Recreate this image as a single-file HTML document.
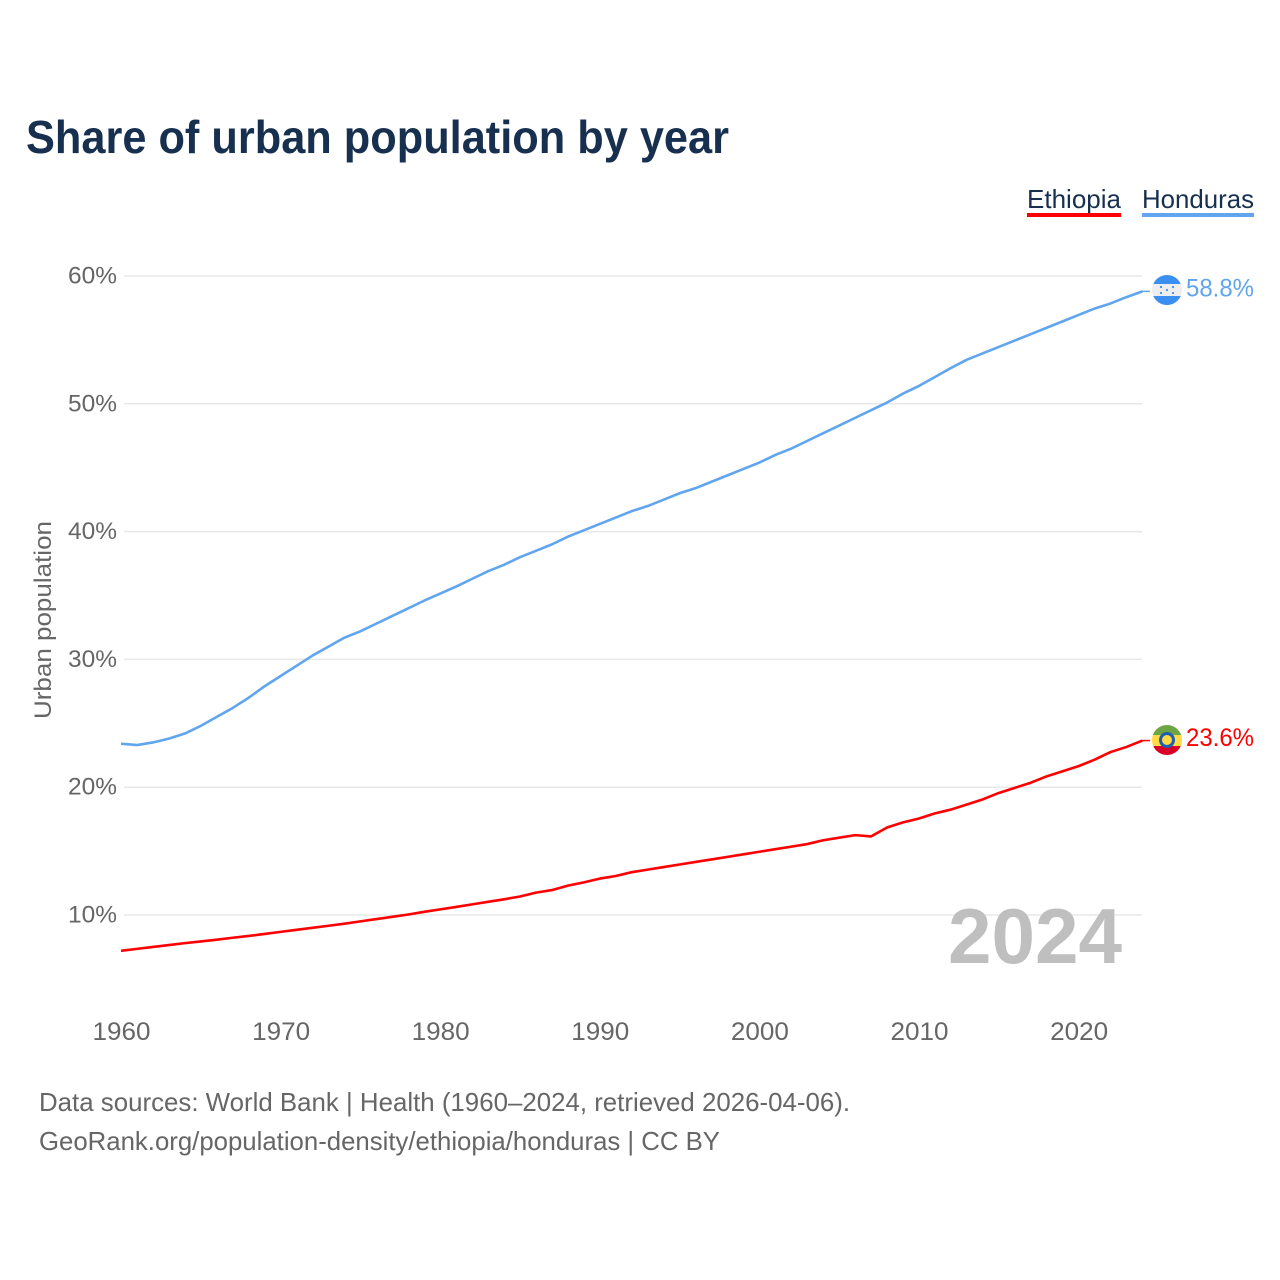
<!DOCTYPE html>
<html lang="en">
<head>
<meta charset="utf-8">
<title>Share of urban population by year</title>
<style>
html,body{margin:0;padding:0;background:#fff;width:1280px;height:1280px;overflow:hidden}
svg{display:block;font-family:"Liberation Sans",sans-serif}
</style>
</head>
<body>
<svg id="chart" xmlns="http://www.w3.org/2000/svg" width="1280" height="1280" viewBox="0 0 1280 1280">
  <defs>
    <clipPath id="flag-clip-hn"><circle cx="1167" cy="290" r="15"/></clipPath>
    <clipPath id="flag-clip-et"><circle cx="1167" cy="740" r="15"/></clipPath>
  </defs>
  <rect width="1280" height="1280" fill="#fff"/>
  <text x="26" y="153" font-size="46" font-weight="700" fill="#18304f" textLength="703" lengthAdjust="spacingAndGlyphs">Share of urban population by year</text>

  <g>
    <text x="1027" y="208" font-size="26" fill="#18304f" textLength="94" lengthAdjust="spacingAndGlyphs">Ethiopia</text>
    <rect x="1027" y="213" width="94" height="4" fill="#ff0000"/>
  </g>
  <g>
    <text x="1142" y="208" font-size="26" fill="#18304f" textLength="112" lengthAdjust="spacingAndGlyphs">Honduras</text>
    <rect x="1142" y="213" width="112" height="4" fill="#60a5ee"/>
  </g>

  <g id="grid"></g>
  <g id="yticks"></g>
  <g id="xticks"></g>

  <text transform="translate(51,719) rotate(-90)" font-size="24" fill="#666" textLength="198" lengthAdjust="spacingAndGlyphs">Urban population</text>

  <text x="948" y="963" font-size="78" font-weight="700" fill="#bfbfbf" textLength="174" lengthAdjust="spacingAndGlyphs">2024</text>

  <g id="series"></g>

  <g clip-path="url(#flag-clip-hn)">
    <rect x="1152" y="275" width="30" height="30" fill="#eeeeee"/>
    <rect x="1152" y="275" width="30" height="9" fill="#3b8ff0"/>
    <rect x="1152" y="296" width="30" height="9" fill="#3b8ff0"/>
    <circle cx="1161" cy="287" r="1.1" fill="#3b8ff0"/>
    <circle cx="1173" cy="287" r="1.1" fill="#3b8ff0"/>
    <circle cx="1167" cy="290" r="1.1" fill="#3b8ff0"/>
    <circle cx="1161" cy="293" r="1.1" fill="#3b8ff0"/>
    <circle cx="1173" cy="293" r="1.1" fill="#3b8ff0"/>
  </g>
  <g clip-path="url(#flag-clip-et)">
    <rect x="1152" y="725" width="30" height="10" fill="#6da544"/>
    <rect x="1152" y="735" width="30" height="11" fill="#ffda44"/>
    <rect x="1152" y="746" width="30" height="9" fill="#d80027"/>
    <circle cx="1167" cy="740" r="8" fill="#1f5fb0"/>
    <circle cx="1167" cy="740" r="5" fill="#ffda44"/>
  </g>

  <g id="end-labels"></g>

  <text x="39" y="1111" font-size="26" fill="#666" textLength="811" lengthAdjust="spacingAndGlyphs">Data sources: World Bank | Health (1960–2024, retrieved 2026-04-06).</text>
  <text x="39" y="1150" font-size="26" fill="#666" textLength="681" lengthAdjust="spacingAndGlyphs">GeoRank.org/population-density/ethiopia/honduras | CC BY</text>
</svg>
<script>
const years = [1960,1961,1962,1963,1964,1965,1966,1967,1968,1969,1970,1971,1972,1973,1974,1975,1976,1977,1978,1979,1980,1981,1982,1983,1984,1985,1986,1987,1988,1989,1990,1991,1992,1993,1994,1995,1996,1997,1998,1999,2000,2001,2002,2003,2004,2005,2006,2007,2008,2009,2010,2011,2012,2013,2014,2015,2016,2017,2018,2019,2020,2021,2022,2023,2024];
const hondurasValues = [23.4,23.3,23.5,23.8,24.2,24.8,25.5,26.2,27.0,27.9,28.7,29.5,30.3,31.0,31.7,32.2,32.8,33.4,34.0,34.6,35.15,35.7,36.3,36.9,37.4,38.0,38.5,39.0,39.6,40.1,40.6,41.1,41.6,42.0,42.5,43.0,43.4,43.9,44.4,44.9,45.4,46.0,46.5,47.1,47.7,48.3,48.9,49.5,50.1,50.8,51.4,52.1,52.8,53.45,53.95,54.45,54.95,55.45,55.95,56.45,56.95,57.45,57.85,58.35,58.8];
const ethiopiaValues = [7.2,7.35,7.5,7.65,7.8,7.93,8.07,8.22,8.36,8.52,8.68,8.84,9.0,9.16,9.32,9.5,9.68,9.86,10.04,10.25,10.44,10.63,10.83,11.03,11.23,11.45,11.75,11.95,12.3,12.55,12.85,13.05,13.35,13.55,13.75,13.95,14.15,14.35,14.55,14.75,14.95,15.15,15.35,15.55,15.85,16.05,16.25,16.15,16.85,17.25,17.55,17.95,18.25,18.65,19.05,19.55,19.95,20.35,20.85,21.25,21.65,22.15,22.75,23.15,23.65];
const yTickValues = [10,20,30,40,50,60];
const yTickLabels = ["10%","20%","30%","40%","50%","60%"];
const xTickValues = [1960,1970,1980,1990,2000,2010,2020];
const xTickLabels = ["1960","1970","1980","1990","2000","2010","2020"];
const endLabels = ["58.8%","23.6%"];

const NS = "http://www.w3.org/2000/svg";
function xScale(year){ return 121 + (year - 1960) * 15.96; }
function yScale(v){ return 915 - (v - 10) * 12.78; }
function make(tag, attrs, parent){
  const el = document.createElementNS(NS, tag);
  for (const k in attrs) el.setAttribute(k, attrs[k]);
  parent.appendChild(el);
  return el;
}

const grid = document.getElementById("grid");
const yticks = document.getElementById("yticks");
const xticks = document.getElementById("xticks");
const series = document.getElementById("series");
const endGroup = document.getElementById("end-labels");

yTickValues.forEach(function(v, i){
  const line = make("line", {x1:124, x2:1142, y1:yScale(v), y2:yScale(v), stroke:"#e8e8e8", "stroke-width":1.5}, grid);
  
  
  const t = make("text", {x:117, y:yScale(v) + 7.5, "font-size":24, fill:"#666", "text-anchor":"end", textLength:49, lengthAdjust:"spacingAndGlyphs"}, yticks);
  
  
  t.textContent = yTickLabels[i];
});

xTickValues.forEach(function(v, i){
  const t = make("text", {x:xScale(v) + 0.5, y:1040, "font-size":25, fill:"#666", "text-anchor":"middle", textLength:58, lengthAdjust:"spacingAndGlyphs"}, xticks);
  
  
  t.textContent = xTickLabels[i];
});

function linePath(values){
  return values.map(function(v, i){
    return (i ? "L" : "M") + xScale(years[i]).toFixed(2) + " " + yScale(v).toFixed(2);
  }).join(" ");
}

const hnLine = make("path", {d:linePath(hondurasValues), fill:"none", stroke:"#60a5ee", "stroke-width":2.6, "stroke-linejoin":"round"}, series);


const etLine = make("path", {d:linePath(ethiopiaValues), fill:"none", stroke:"#ff0000", "stroke-width":2.6, "stroke-linejoin":"round"}, series);



const hnLast = hondurasValues[hondurasValues.length - 1];
const etLast = ethiopiaValues[ethiopiaValues.length - 1];
const hnConn = make("line", {x1:xScale(2024), x2:1150, y1:yScale(hnLast), y2:yScale(hnLast), stroke:"#60a5ee", "stroke-width":1.5}, series);


const etConn = make("line", {x1:xScale(2024), x2:1150, y1:yScale(etLast), y2:yScale(etLast), stroke:"#ff0000", "stroke-width":1.5}, series);



const hnLabel = make("text", {x:1186, y:yScale(hnLast) + 5, "font-size":25, fill:"#60a5ee", textLength:68, lengthAdjust:"spacingAndGlyphs"}, endGroup);


hnLabel.textContent = endLabels[0];
const etLabel = make("text", {x:1186, y:yScale(etLast) + 5.5, "font-size":25, fill:"#ff0000", textLength:68, lengthAdjust:"spacingAndGlyphs"}, endGroup);


etLabel.textContent = endLabels[1];
</script>
</body>
</html>
